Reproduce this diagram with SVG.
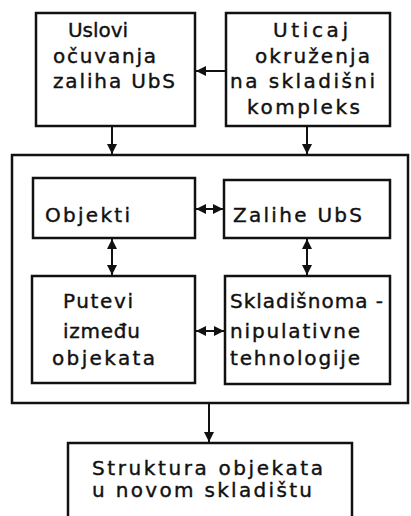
<svg xmlns="http://www.w3.org/2000/svg" width="411" height="516" viewBox="0 0 411 516">
<style>
.b{fill:none;stroke:#111;stroke-width:2.5}
.c{fill:none;stroke:#111;stroke-width:2}
text{font-family:"DejaVu Sans","Liberation Sans",sans-serif;font-size:20px;fill:#111;stroke:#111;stroke-width:0.4}
</style>
<defs>
<marker id="a" viewBox="0 0 10 10" refX="10" refY="5" markerWidth="5" markerHeight="5" orient="auto-start-reverse" markerUnits="strokeWidth">
<path d="M0,0L10,5L0,10z" fill="#111"/>
</marker>
</defs>
<rect width="411" height="516" fill="#fff"/>
<g id="n1"><rect class="b" x="36" y="13" width="159" height="113"/>
<text x="68" y="37" textLength="60">Uslovi</text>
<text x="53" y="63" textLength="103">očuvanja</text>
<text x="53" y="88" textLength="122">zaliha UbS</text></g>
<g id="n2"><rect class="b" x="226" y="13" width="164" height="113"/>
<text x="273" y="37" textLength="75">Uticaj</text>
<text x="255" y="63" textLength="115">okruženja</text>
<text x="230" y="88" textLength="145">na skladišni</text>
<text x="247" y="114" textLength="113">kompleks</text></g>
<g id="frame"><rect class="b" x="12" y="155" width="396" height="248"/></g>
<g id="n3"><rect class="b" x="33" y="178" width="162" height="60"/>
<text x="45" y="222" textLength="85">Objekti</text></g>
<g id="n4"><rect class="b" x="224" y="180" width="166" height="58"/>
<text x="233" y="222" textLength="129">Zalihe UbS</text></g>
<g id="n5"><rect class="b" x="32" y="276" width="163" height="107"/>
<text x="63" y="308" textLength="70">Putevi</text>
<text x="63" y="338" textLength="77">između</text>
<text x="52" y="365" textLength="103">objekata</text></g>
<g id="n6"><rect class="b" x="225" y="276" width="165" height="108"/>
<text x="230" y="308" textLength="153">Skladišnoma -</text>
<text x="230" y="338" textLength="130">nipulativne</text>
<text x="230" y="365" textLength="130">tehnologije</text></g>
<g id="n7"><rect class="b" x="68" y="443" width="284" height="80"/>
<text x="92" y="475" textLength="231">Struktura objekata</text>
<text x="92" y="497" textLength="220">u novom skladištu</text></g>
<g id="connectors">
<line class="c" x1="226" y1="71" x2="196" y2="71" marker-end="url(#a)"/>
<line class="c" x1="112" y1="126" x2="112" y2="154" marker-end="url(#a)"/>
<line class="c" x1="307" y1="126" x2="307" y2="154" marker-end="url(#a)"/>
<line class="c" x1="196" y1="209" x2="223" y2="209" marker-start="url(#a)" marker-end="url(#a)"/>
<line class="c" x1="112" y1="239" x2="112" y2="275" marker-start="url(#a)" marker-end="url(#a)"/>
<line class="c" x1="307" y1="239" x2="307" y2="275" marker-start="url(#a)" marker-end="url(#a)"/>
<line class="c" x1="196" y1="331" x2="224" y2="331" marker-start="url(#a)" marker-end="url(#a)"/>
<line class="c" x1="209" y1="404" x2="209" y2="442" marker-end="url(#a)"/>
</g>
</svg>
